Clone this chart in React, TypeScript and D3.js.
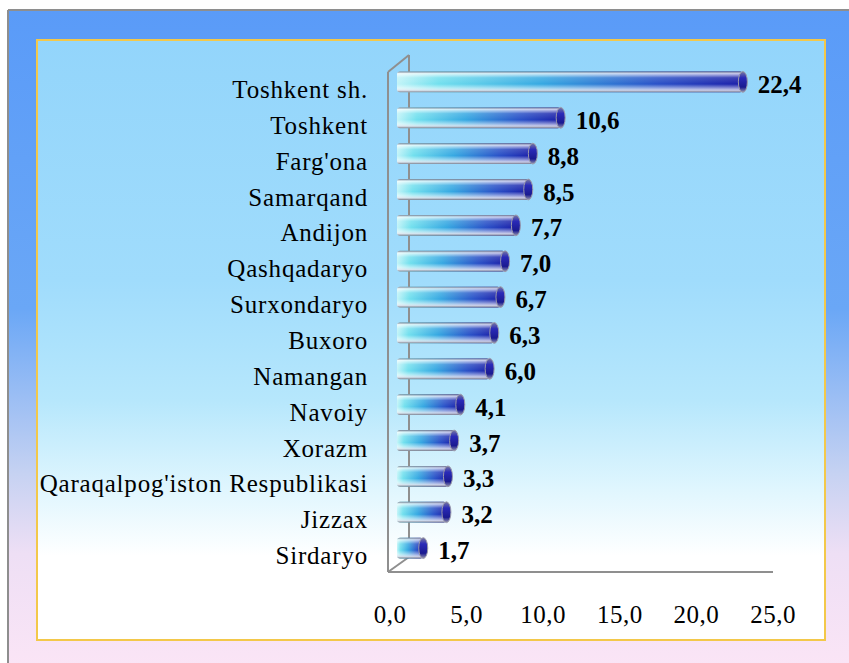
import * as d3 from 'd3';

// regions (top to bottom) and their values
const regions = [
  'Toshkent sh.',
  'Toshkent',
  "Farg'ona",
  'Samarqand',
  'Andijon',
  'Qashqadaryo',
  'Surxondaryo',
  'Buxoro',
  'Namangan',
  'Navoiy',
  'Xorazm',
  "Qaraqalpog'iston Respublikasi",
  'Jizzax',
  'Sirdaryo',
];
const values = [22.4, 10.6, 8.8, 8.5, 7.7, 7.0, 6.7, 6.3, 6.0, 4.1, 3.7, 3.3, 3.2, 1.7];
const ticks = [0, 5, 10, 15, 20, 25];

const W = 849;
const H = 663;
const serif = "'Liberation Serif', 'Times New Roman', serif";
const fmt = (v: number) => v.toFixed(1).replace('.', ',');

const App = () => {
  // front (floor) scale for tick labels
  const x = d3.scaleLinear().domain([0, 25]).range([390, 773]);
  // back-wall scale used by the bars
  const xb = d3.scaleLinear().domain([0, 25]).range([397, 783]);
  const y = d3.scaleBand().domain(regions).range([64, 566]).paddingInner(0.42).paddingOuter(0.21);
  const bh = y.bandwidth();

  const floorY = 572;
  const depth = { dx: 21, dy: -15 };

  return (
    <svg width={W} height={H} style={{ position: 'absolute', left: 0, top: 0 }}>
      <defs>
        <linearGradient id="outerBg" x1="0" y1="0" x2="0" y2="1">
          <stop offset="0" stopColor="#5a9bf8" />
          <stop offset="0.45" stopColor="#6aa7f6" />
          <stop offset="0.7" stopColor="#c6d2f2" />
          <stop offset="0.82" stopColor="#eedff5" />
          <stop offset="1" stopColor="#fbe5f6" />
        </linearGradient>
        <linearGradient id="innerBg" x1="0" y1="0" x2="0" y2="1">
          <stop offset="0" stopColor="#93d5fb" />
          <stop offset="0.4" stopColor="#a0dcfc" />
          <stop offset="0.6" stopColor="#b6e7fc" />
          <stop offset="0.75" stopColor="#e0f6fe" />
          <stop offset="0.86" stopColor="#ffffff" />
        </linearGradient>
        <linearGradient id="barH" x1="0" y1="0" x2="1" y2="0">
          <stop offset="0" stopColor="#c2f4f8" />
          <stop offset="0.12" stopColor="#72e0ee" />
          <stop offset="0.42" stopColor="#36a8e2" />
          <stop offset="0.75" stopColor="#2a52c8" />
          <stop offset="1" stopColor="#1c1ea8" />
        </linearGradient>
        <linearGradient id="barV" x1="0" y1="0" x2="0" y2="1">
          <stop offset="0" stopColor="#6e7488" stopOpacity="0.9" />
          <stop offset="0.1" stopColor="#ffffff" stopOpacity="0.75" />
          <stop offset="0.3" stopColor="#ffffff" stopOpacity="0.15" />
          <stop offset="0.6" stopColor="#ffffff" stopOpacity="0" />
          <stop offset="0.78" stopColor="#ffffff" stopOpacity="0.45" />
          <stop offset="0.9" stopColor="#e6e6ef" stopOpacity="0.85" />
          <stop offset="1" stopColor="#7a7a88" stopOpacity="0.95" />
        </linearGradient>
        <linearGradient id="capG" x1="0" y1="0" x2="0" y2="1">
          <stop offset="0" stopColor="#7c7ca0" />
          <stop offset="0.3" stopColor="#2a2ab8" />
          <stop offset="0.75" stopColor="#1a1a90" />
          <stop offset="1" stopColor="#9a9ab0" />
        </linearGradient>
      </defs>

      {/* outer frame */}
      <rect x={8} y={10} width={W} height={H} fill="url(#outerBg)" />
      <line x1={8} y1={10} x2={W} y2={10} stroke="#8e8e8e" strokeWidth={2} />
      <line x1={8} y1={10} x2={8} y2={H} stroke="#8e8e8e" strokeWidth={2} />

      {/* plot panel */}
      <rect x={37} y={40} width={788} height={600} fill="url(#innerBg)" stroke="#f3c84a" strokeWidth={2} />

      {/* 3d axis walls */}
      <g stroke="#8f8f8f" strokeWidth={2} fill="none">
        <line x1={x(0) - 2} y1={floorY} x2={x(25)} y2={floorY} />
        <line x1={x(0) - 2} y1={floorY} x2={x(0) - 2 + depth.dx} y2={floorY + depth.dy} />
        <line x1={x(0) - 2} y1={floorY} x2={x(0) - 2} y2={72} />
        <line x1={x(0) - 2} y1={72} x2={x(0) - 2 + depth.dx} y2={72 + depth.dy - 2} />
        <line x1={x(0) - 2 + depth.dx} y1={55} x2={x(0) - 2 + depth.dx} y2={floorY + depth.dy} />
      </g>

      {/* bars */}
      {regions.map((r, i) => {
        const v = values[i];
        const y0 = y(r) as number;
        const x0 = xb(0);
        const x1 = xb(values[i]);
        const cy = y0 + bh / 2;
        return (
          <g key={r}>
            <rect x={x0} y={y0} width={x1 - x0} height={bh} rx={3} fill="url(#barH)" />
            <rect x={x0} y={y0} width={x1 - x0} height={bh} rx={3} fill="url(#barV)" />
            <ellipse cx={x1} cy={cy} rx={4.5} ry={bh / 2} fill="url(#capG)" stroke="#9a9aaa" strokeWidth={1} />
            <text
              x={x1 + 15}
              y={cy + 11}
              fontFamily={serif}
              fontWeight="bold"
              fontSize={25}
              fill="#000"
            >
              {fmt(v)}
            </text>
            <text
              x={368}
              y={cy + 16}
              textAnchor="end"
              fontFamily={serif}
              fontSize={25}
              letterSpacing={0.8}
              fill="#000"
            >
              {r}
            </text>
          </g>
        );
      })}

      {/* x tick labels */}
      {ticks.map(t => (
        <text
          key={t}
          x={x(t)}
          y={623}
          textAnchor="middle"
          fontFamily={serif}
          fontSize={25}
          letterSpacing={0.5}
          fill="#000"
        >
          {fmt(t)}
        </text>
      ))}
    </svg>
  );
};

export default App;
